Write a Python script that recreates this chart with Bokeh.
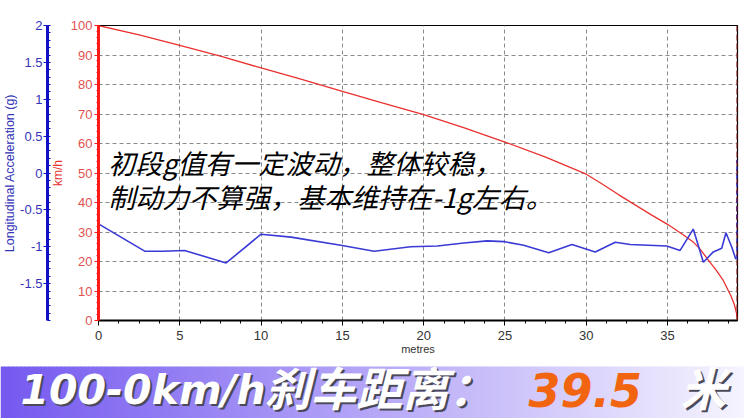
from bokeh.plotting import figure
from bokeh.models import Range1d, LinearAxis, FixedTicker, Span, Label
from bokeh.core.properties import value
from bokeh.embed import file_html
from bokeh.resources import INLINE
import numpy as np

# ---------------- data ----------------
speed_dist = [0, 2.5, 5, 7.5, 10, 12.5, 15, 17.5, 20, 22.5, 25, 27.5, 30, 31, 32, 33, 34, 35,
              36, 36.6, 37, 37.6, 38, 38.4, 38.9, 39.1, 39.25, 39.3]
speed_kmh = [100, 96.8, 93.3, 89.6, 85.6, 81.7, 77.7, 73.7, 69.8, 65.3, 60.5, 55.4, 49.6, 46.2,
             42.6, 39.2, 35.8, 32.6, 28.9, 26.5, 24.2, 19.8, 17.0, 13.8, 8.3, 5.5, 2.3, 0]

acc_dist = [0.0, 2.84, 3.97, 5.29, 7.85, 10.0, 11.84, 14.9, 16.95, 19.2, 20.84, 22.47, 23.9,
            24.93, 26.15, 27.69, 29.12, 30.55, 31.78, 32.7, 34.95, 35.77, 36.58, 37.2, 37.81,
            38.33, 38.59, 38.94, 39.2]
acc_g = [-0.69, -1.06, -1.06, -1.05, -1.22, -0.83, -0.87, -0.98, -1.06, -1.00, -0.99, -0.95,
         -0.92, -0.93, -0.98, -1.08, -0.97, -1.07, -0.94, -0.97, -0.99, -1.05, -0.76, -1.21,
         -1.07, -1.02, -0.81, -1.00, -1.17]
acc_end_dist = [39.3, 39.3]
acc_end_g = [-1.17, 0.18]

x_ticks = [0, 5, 10, 15, 20, 25, 30, 35]
kmh_ticks = [0, 10, 20, 30, 40, 50, 60, 70, 80, 90, 100]
g_ticks = [-1.5, -1, -0.5, 0, 0.5, 1, 1.5, 2]
g_labels = {-1.5: "-1.5", -1: "-1", -0.5: "-0.5", 0: "0", 0.5: "0.5", 1: "1", 1.5: "1.5", 2: "2"}

note_line1 = "初段g值有一定波动，整体较稳，"
note_line2 = "制动力不算强，基本维持在-1g左右。"
banner_speed = "100-0km/h"
banner_label = "刹车距离："
banner_value = "39.5"
banner_unit = "米"

X_MAX = 39.3

# ---------------- chart ----------------
RED = "#e8312f"
RED_TXT = "#e05252"
BLUE = "#1010c8"
BLUE_TXT = "#3434b8"
TICK_FONT = "Liberation Sans"

p = figure(width=744, height=358, output_backend="svg", toolbar_location=None,
           x_range=Range1d(0, X_MAX), y_range=Range1d(0, 100),
           min_border_left=97, min_border_right=7, min_border_top=25, min_border_bottom=38,
           background_fill_color="white", border_fill_color="white")
p.outline_line_color = "black"
p.outline_line_width = 1.2

# x axis
xa = p.xaxis[0]
xa.ticker = FixedTicker(ticks=x_ticks, minor_ticks=list(np.arange(0, X_MAX, 1.25)))
xa.axis_line_color = "black"
xa.axis_line_width = 2
xa.major_tick_line_color = "black"
xa.minor_tick_line_color = "black"
xa.major_tick_out = 5
xa.major_tick_in = 0
xa.minor_tick_out = 3
xa.minor_tick_in = 0
xa.major_label_text_font = TICK_FONT
xa.major_label_text_font_size = "13px"
xa.major_label_text_color = "#333333"
xa.major_label_standoff = 5
xa.axis_label = "metres"
xa.axis_label_text_font = TICK_FONT
xa.axis_label_text_font_size = "11px"
xa.axis_label_text_font_style = "normal"
xa.axis_label_text_color = "#333333"
xa.axis_label_standoff = 0

# red (km/h) axis
ya = p.yaxis[0]
ya.ticker = FixedTicker(ticks=kmh_ticks, minor_ticks=list(range(0, 101, 2)))
ya.axis_line_color = "#ff1a1a"
ya.axis_line_width = 3
ya.major_tick_line_color = "#ff1a1a"
ya.minor_tick_line_color = "#ff1a1a"
ya.major_tick_out = 4
ya.major_tick_in = 0
ya.minor_tick_out = 2
ya.minor_tick_in = 0
ya.major_label_text_font = TICK_FONT
ya.major_label_text_font_size = "13px"
ya.major_label_text_color = RED_TXT
ya.major_label_standoff = 2
ya.axis_label = "km/h"
ya.axis_label_text_font = TICK_FONT
ya.axis_label_text_font_size = "12px"
ya.axis_label_text_font_style = "normal"
ya.axis_label_text_color = RED
ya.axis_label_standoff = 3

# blue (g) axis
p.extra_y_ranges = {"acc": Range1d(-2, 2)}
ba = LinearAxis(y_range_name="acc")
ba.ticker = FixedTicker(ticks=g_ticks, minor_ticks=list(np.round(np.arange(-2, 2.01, 0.1), 2)))
ba.major_label_overrides = g_labels
ba.axis_line_color = BLUE
ba.axis_line_width = 3
ba.major_tick_line_color = BLUE
ba.minor_tick_line_color = BLUE
ba.major_tick_out = 4
ba.major_tick_in = 0
ba.minor_tick_out = 0
ba.minor_tick_in = 3
ba.major_label_text_font = TICK_FONT
ba.major_label_text_font_size = "13px"
ba.major_label_text_color = BLUE_TXT
ba.major_label_standoff = 1
ba.axis_label = "Longitudinal Acceleration (g)"
ba.axis_label_text_font = TICK_FONT
ba.axis_label_text_font_size = "12.5px"
ba.axis_label_text_font_style = "normal"
ba.axis_label_text_color = BLUE_TXT
ba.axis_label_standoff = 0
p.add_layout(ba, "left")

# grids
for g in (p.xgrid[0], p.ygrid[0]):
    g.grid_line_color = "#8a8a8a"
    g.grid_line_dash = "4 3"
    g.grid_line_width = 1

# right edge dashed line
p.add_layout(Span(location=X_MAX, dimension="height", line_color="#7a1010",
                  line_width=2, line_dash="6 3"))

# series
p.line(speed_dist, speed_kmh, line_color=RED, line_width=1.3)
p.line(acc_dist, acc_g, y_range_name="acc", line_color="#3a3ad6", line_width=1.6)
p.line(acc_end_dist, acc_end_g, y_range_name="acc", line_color="#2a2ae0", line_width=2.5,
       line_dash="5 3")

# annotation
for txt, yy in ((note_line1, 53.4), (note_line2, 42.2)):
    p.add_layout(Label(x=0.6, y=yy, text=txt, text_font="Noto Sans CJK SC",
                       text_font_size="27px", text_font_style="italic",
                       text_color="black", text_baseline="middle", text_align="left"))

# ---------------- banner ----------------
BH = 60      # figure height
GH = 52      # gradient band height (bottom part)
b = figure(width=744, height=BH, output_backend="svg", toolbar_location=None,
           x_range=Range1d(0, 744), y_range=Range1d(0, BH),
           x_axis_type=None, y_axis_type=None, min_border=0)
b.outline_line_color = None
b.xgrid.visible = False
b.ygrid.visible = False

n = 186
c0 = np.array([0x76, 0x5a, 0xf0])
c1 = np.array([0xf6, 0xf4, 0xff])
lefts = np.arange(n) * 4.0
cols = []
for i in range(n):
    t = i / (n - 1)
    c = (c0 * (1 - t) + c1 * t).astype(int)
    cols.append("#%02x%02x%02x" % tuple(c))
b.quad(left=lefts, right=lefts + 4.5, bottom=0, top=GH, fill_color=cols, line_color=None)

LATIN = value("DejaVu Sans")
CJK = value("DejaVu Sans, Noto Sans CJK SC")
SHADOW = "#4a4a5a"
YB = 29

def banner_text(x, txt, font, size, color, shadow=True):
    if shadow:
        b.text(x=[x], y=[YB], text=[txt], text_font=font, text_font_size=size,
               text_font_style="bold italic", text_color=SHADOW, text_baseline="middle",
               x_offset=2, y_offset=2)
    b.text(x=[x], y=[YB], text=[txt], text_font=font, text_font_size=size,
           text_font_style="bold italic", text_color=color, text_baseline="middle")

banner_text(20, banner_speed, LATIN, "41px", "white")
banner_text(264, banner_label, CJK, "46px", "white")
banner_text(528, banner_value, LATIN, "46px", "#f26510", shadow=False)
banner_text(680, banner_unit, CJK, "46px", "white")

open("out.html", "w").write(file_html([p, b], INLINE))
